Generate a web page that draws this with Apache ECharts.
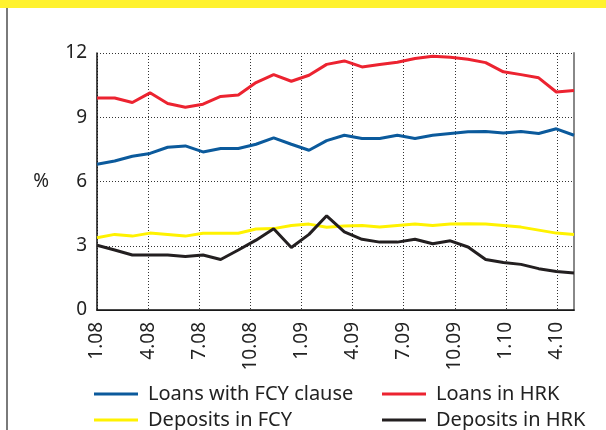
<!DOCTYPE html>
<html>
<head>
<meta charset="utf-8">
<script src="https://cdn.jsdelivr.net/npm/echarts@6/dist/echarts.min.js"></script>
<style>
    html, body { margin: 0; padding: 0; background: #fff; }
    #chart { width: 606px; height: 430px; }
</style>
</head>
<body>
<div id="chart"></div>
<script>
// month ticks shown on the axis (1.08 .. 5.10)
var tickMonths = ['1.08', '2.08', '3.08', '4.08', '5.08', '6.08', '7.08', '8.08', '9.08', '10.08', '11.08', '12.08',
    '1.09', '2.09', '3.09', '4.09', '5.09', '6.09', '7.09', '8.09', '9.09', '10.09', '11.09', '12.09',
    '1.10', '2.10', '3.10', '4.10', '5.10'];
// months with observations (1.08 .. 4.10)
var dataMonths = tickMonths.slice(0, 28);

var loansFcy = [6.81, 6.96, 7.18, 7.31, 7.60, 7.66, 7.38, 7.54, 7.54, 7.74, 8.04, 7.74, 7.46, 7.91,
    8.16, 8.01, 8.01, 8.16, 8.01, 8.16, 8.24, 8.32, 8.33, 8.27, 8.33, 8.24, 8.46, 8.16];
var loansHrk = [9.90, 9.90, 9.69, 10.14, 9.64, 9.47, 9.61, 9.97, 10.04, 10.62, 10.99, 10.68, 10.96, 11.47,
    11.63, 11.35, 11.46, 11.57, 11.74, 11.85, 11.80, 11.71, 11.55, 11.12, 10.99, 10.84, 10.18, 10.25];
var depositsFcy = [3.37, 3.53, 3.45, 3.59, 3.53, 3.45, 3.58, 3.58, 3.58, 3.78, 3.80, 3.95, 4.01, 3.86,
    3.92, 3.95, 3.87, 3.95, 4.01, 3.95, 4.01, 4.03, 4.01, 3.95, 3.87, 3.73, 3.59, 3.53];
var depositsHrk = [3.02, 2.80, 2.57, 2.57, 2.57, 2.50, 2.57, 2.36, 2.80, 3.26, 3.79, 2.92, 3.53, 4.40,
    3.65, 3.30, 3.17, 3.17, 3.30, 3.09, 3.23, 2.94, 2.36, 2.22, 2.13, 1.93, 1.80, 1.73];

var font = 'Noto Sans';
var dotted = { color: '#333', width: 1, type: [1, 2] };

function legendAt(name, left, top) {
    return {
        data: [name],
        left: left,
        top: top,
        icon: 'rect',
        itemWidth: 44,
        itemHeight: 3,
        selectedMode: false,
        textStyle: { fontFamily: font, fontSize: 20, color: '#222', padding: [0, 0, 0, 5] }
    };
}

var chart = echarts.init(document.getElementById('chart'));
var option = {
    animation: false,
    color: ['#0b5a9c', '#ec2330', '#fff200', '#231f20'],
    grid: { left: 97, right: 32, top: 53, bottom: 120, containLabel: false },
    legend: [
        legendAt('Loans with FCY clause', 89, 379),
        legendAt('Loans in HRK', 377, 379),
        legendAt('Deposits in FCY', 89, 405),
        legendAt('Deposits in HRK', 377, 405)
    ],
    graphic: [
        { type: 'rect', shape: { x: 0, y: 0, width: 606, height: 8 }, style: { fill: '#fff22e' } },
        { type: 'line', shape: { x1: 7, y1: 8, x2: 7, y2: 430 }, style: { stroke: '#7a7a7a', lineWidth: 2 } }
    ],
    xAxis: [
        {
            // data axis, drawn as the top border
            type: 'category',
            data: dataMonths,
            boundaryGap: false,
            position: 'top',
            axisLine: { lineStyle: { color: '#333', width: 1 } },
            axisTick: { show: false },
            axisLabel: { show: false },
            splitLine: { show: false }
        },
        {
            // tick / label axis
            type: 'category',
            data: tickMonths,
            boundaryGap: false,
            position: 'bottom',
            axisLine: { lineStyle: { color: '#111', width: 1.5 } },
            axisTick: { show: false, interval: 2 },
            axisLabel: {
                interval: 2,
                rotate: 90,
                margin: 12,
                fontFamily: font,
                fontSize: 19,
                color: '#222'
            },
            splitLine: { show: true, interval: 2, lineStyle: dotted }
        }
    ],
    yAxis: [
        {
            type: 'value',
            min: 0,
            max: 12,
            interval: 3,
            name: '%',
            nameLocation: 'middle',
            nameRotate: 0,
            nameGap: 48,
            nameTextStyle: { fontFamily: font, fontSize: 19, color: '#222', padding: [4, 0, 0, 0] },
            axisLine: { show: true, lineStyle: { color: '#111', width: 1.5 } },
            axisTick: { show: false },
            axisLabel: { margin: 10, fontFamily: font, fontSize: 19, color: '#222' },
            splitLine: { show: true, lineStyle: dotted }
        },
        {
            type: 'value',
            min: 0,
            max: 12,
            interval: 3,
            position: 'right',
            axisLine: { show: true, lineStyle: { color: '#888', width: 2 } },
            axisTick: { show: false },
            axisLabel: { show: false },
            splitLine: { show: false }
        }
    ],
    series: [
        { name: 'Loans with FCY clause', type: 'line', xAxisIndex: 0, yAxisIndex: 0, data: loansFcy, symbol: 'none', lineStyle: { width: 3 } },
        { name: 'Loans in HRK', type: 'line', xAxisIndex: 0, yAxisIndex: 0, data: loansHrk, symbol: 'none', lineStyle: { width: 3 } },
        { name: 'Deposits in FCY', type: 'line', xAxisIndex: 0, yAxisIndex: 0, data: depositsFcy, symbol: 'none', lineStyle: { width: 3 } },
        { name: 'Deposits in HRK', type: 'line', xAxisIndex: 0, yAxisIndex: 0, data: depositsHrk, symbol: 'none', lineStyle: { width: 3 } }
    ]
};
chart.setOption(option);
</script>
</body>
</html>
